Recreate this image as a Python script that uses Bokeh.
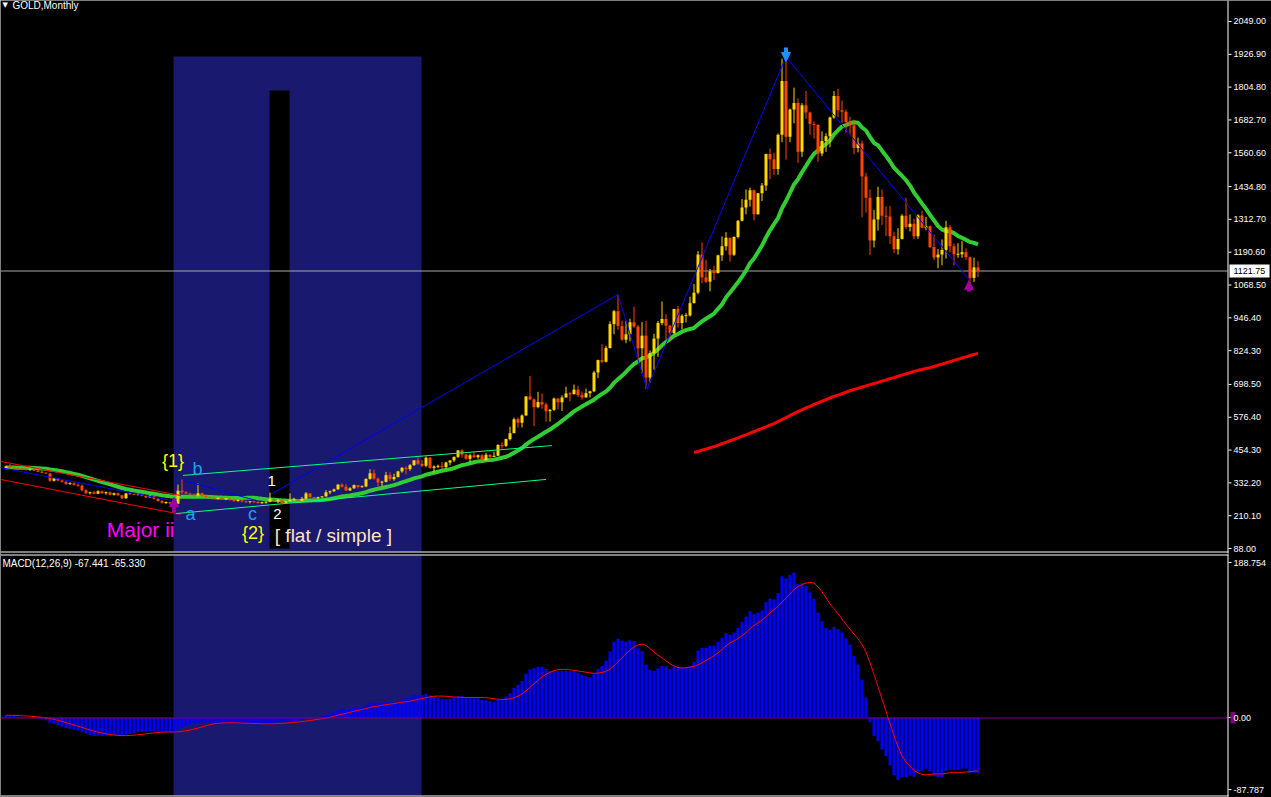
import numpy as np
from bokeh.plotting import figure
from bokeh.models import Range1d, Label, Arrow, NormalHead, ColumnDataSource
from bokeh.core.properties import value
from bokeh.embed import file_html
from bokeh.resources import INLINE

# ---------------- data (monthly GOLD candles) ----------------
prior_closes = [372, 380, 386, 392, 398, 388, 384, 380, 386, 390, 394, 391, 386, 383,
                385, 389, 392, 395, 391, 388, 385, 387, 390, 393, 391, 388, 390]

opens = [
    388, 394, 388, 386, 384, 383, 381, 384, 378, 374, 370, 367,
    340, 349, 341, 336, 328, 331, 325, 322, 305, 294, 297, 292,
    301, 294, 297, 288, 294, 286, 275, 293, 291, 289, 292, 284,
    279, 285, 273, 265, 258, 260, 256, 255, 303, 297, 293, 289,
    285, 294, 283, 279, 276, 274, 275, 271, 273, 269, 265, 268,
    263, 261, 264, 260, 258, 259, 262,
    272, 266, 267, 258, 263, 268, 271, 266, 273, 293, 279, 276,
    279, 282, 297, 301, 308, 326, 318, 304, 312, 324, 317, 319,
    347, 368, 348, 334, 336, 361, 346, 354, 375, 388, 384, 398,
    416, 403, 396, 426, 388, 393, 395, 391, 408, 416, 429, 453,
    438, 422, 435, 428, 435, 417, 437, 429, 433, 473, 470, 495,
    517, 569, 556, 583, 654, 643, 614, 633, 624, 599, 604, 646,
    632, 650, 665, 662, 679, 659, 650, 666, 673, 743, 789, 783,
    834, 923, 971, 916, 865, 885, 930, 914, 833, 880, 724, 815,
    869, 927, 942, 917, 890, 979, 927, 954, 955, 1001, 1040, 1182,
    1097, 1081, 1119, 1113, 1179, 1213, 1244, 1181, 1247, 1308, 1357, 1386,
    1421, 1332, 1410, 1439, 1556, 1536, 1500, 1628, 1828, 1620, 1722, 1746,
    1564, 1737, 1710, 1668, 1664, 1558, 1604, 1622, 1692, 1772, 1719, 1713,
    1675, 1663, 1578, 1595, 1472, 1393, 1234, 1312, 1396, 1326, 1323, 1250,
    1202, 1240, 1326, 1284, 1296, 1250, 1327, 1282, 1287, 1210, 1171, 1182,
    1199, 1283, 1213, 1183, 1183, 1190, 1172, 1095, 1134]

highs = [
    396, 403, 391, 389, 388, 387, 386, 387, 382, 378, 372, 369,
    352, 351, 345, 340, 335, 334, 330, 326, 309, 300, 302, 305,
    303, 300, 300, 296, 296, 288, 295, 296, 295, 293, 294, 289,
    287, 287, 276, 268, 263, 262, 259, 326, 345, 302, 296, 293,
    330, 296, 287, 282, 280, 278, 279, 276, 276, 273, 270, 271,
    267, 265, 267, 264, 262, 263, 296,
    273, 272, 269, 265, 293, 277, 272, 280, 298, 294, 280, 281,
    283, 305, 304, 311, 327, 330, 327, 316, 326, 324, 323, 349,
    383, 382, 352, 340, 373, 372, 366, 377, 391, 394, 402, 417,
    427, 417, 430, 428, 397, 400, 410, 411, 415, 430, 455, 457,
    440, 439, 447, 438, 439, 444, 438, 448, 476, 483, 497, 541,
    575, 575, 587, 654, 730, 646, 671, 665, 631, 607, 650, 648,
    658, 690, 670, 698, 693, 672, 683, 675, 749, 791, 848, 842,
    933, 976, 1033, 936, 936, 943, 988, 920, 931, 935, 825, 887,
    935, 1007, 960, 920, 980, 990, 960, 965, 1025, 1072, 1195, 1227,
    1162, 1128, 1140, 1181, 1249, 1265, 1245, 1250, 1310, 1388, 1424, 1431,
    1424, 1411, 1448, 1557, 1577, 1561, 1632, 1911, 1920, 1725, 1803, 1763,
    1745, 1791, 1714, 1677, 1667, 1640, 1633, 1695, 1790, 1798, 1755, 1722,
    1695, 1684, 1617, 1606, 1487, 1424, 1348, 1434, 1424, 1361, 1362, 1267,
    1280, 1332, 1392, 1331, 1315, 1332, 1345, 1322, 1290, 1256, 1202, 1238,
    1307, 1292, 1223, 1224, 1232, 1205, 1175, 1170, 1157]

lows = [
    384, 386, 384, 382, 380, 378, 377, 376, 372, 368, 365, 336,
    337, 338, 333, 325, 324, 322, 318, 300, 290, 289, 290, 290,
    292, 288, 286, 285, 284, 272, 273, 288, 287, 285, 282, 276,
    277, 270, 262, 255, 253, 252, 253, 253, 290, 290, 286, 282,
    282, 280, 276, 272, 271, 270, 268, 268, 266, 262, 262, 260,
    258, 256, 258, 255, 254, 255, 260,
    263, 256, 257, 256, 263, 266, 265, 265, 270, 276, 271, 272,
    276, 281, 290, 299, 307, 315, 302, 302, 310, 311, 314, 316,
    344, 344, 320, 319, 334, 339, 340, 352, 370, 364, 377, 396,
    399, 391, 390, 385, 371, 387, 384, 386, 397, 410, 425, 426,
    418, 410, 424, 422, 414, 414, 418, 429, 433, 460, 466, 490,
    517, 538, 538, 582, 640, 543, 610, 608, 560, 560, 600, 605,
    600, 650, 636, 662, 651, 642, 650, 650, 670, 722, 777, 780,
    832, 885, 902, 861, 852, 859, 908, 786, 740, 681, 705, 753,
    801, 919, 867, 865, 884, 910, 904, 929, 951, 1000, 1034, 1075,
    1076, 1045, 1087, 1111, 1158, 1197, 1155, 1176, 1242, 1305, 1332, 1360,
    1309, 1330, 1381, 1419, 1462, 1477, 1479, 1600, 1535, 1600, 1670, 1523,
    1545, 1687, 1627, 1613, 1527, 1548, 1564, 1581, 1687, 1694, 1672, 1635,
    1626, 1555, 1562, 1321, 1338, 1180, 1208, 1271, 1292, 1251, 1221, 1187,
    1182, 1238, 1277, 1268, 1240, 1240, 1281, 1272, 1206, 1161, 1131, 1142,
    1167, 1190, 1142, 1170, 1170, 1162, 1077, 1080, 1098]

closes = [
    394, 388, 386, 384, 383, 381, 384, 378, 374, 370, 367, 340,
    349, 341, 336, 328, 331, 325, 322, 305, 294, 297, 292, 301,
    294, 297, 288, 294, 286, 275, 293, 291, 289, 292, 284, 279,
    285, 273, 265, 258, 260, 256, 255, 303, 297, 293, 289, 285,
    294, 283, 279, 276, 274, 275, 271, 273, 269, 265, 268, 263,
    261, 264, 260, 258, 259, 262, 272,
    266, 267, 258, 263, 268, 271, 266, 273, 293, 279, 276, 279,
    282, 297, 301, 308, 326, 318, 304, 312, 324, 317, 319, 347,
    368, 348, 334, 336, 361, 346, 354, 375, 388, 384, 398, 416,
    403, 396, 426, 388, 393, 395, 391, 408, 416, 429, 453, 438,
    422, 435, 428, 435, 417, 437, 429, 433, 473, 470, 495, 517,
    569, 556, 583, 654, 643, 614, 633, 624, 599, 604, 646, 632,
    650, 665, 662, 679, 659, 650, 666, 673, 743, 789, 783, 834,
    923, 971, 916, 865, 885, 930, 914, 833, 880, 724, 815, 869,
    927, 942, 917, 890, 979, 927, 954, 955, 1001, 1040, 1182, 1097,
    1081, 1119, 1113, 1179, 1213, 1244, 1181, 1247, 1308, 1357, 1386, 1421,
    1332, 1410, 1439, 1556, 1536, 1500, 1628, 1828, 1620, 1722, 1746, 1564,
    1737, 1710, 1668, 1664, 1558, 1604, 1622, 1692, 1772, 1719, 1713, 1675,
    1663, 1578, 1595, 1472, 1393, 1234, 1312, 1396, 1326, 1323, 1250, 1202,
    1240, 1326, 1284, 1296, 1250, 1327, 1282, 1287, 1210, 1171, 1182, 1199,
    1283, 1213, 1183, 1183, 1190, 1172, 1095, 1134, 1121.75]

# long moving average (red), bars 172..243
ma_long_start = 172
ma_long = [445, 449, 454, 458, 463, 467,
           472, 478, 483, 489, 494,
           500, 506, 511, 517, 523,
           529, 535, 541, 547, 553,
           560, 568, 575, 583, 590,
           597, 604, 611, 617, 624,
           630, 636, 642, 648, 654,
           659, 664, 670, 675, 680,
           684, 689, 693, 698, 702,
           706, 711, 715, 720, 724,
           729, 733, 738, 742, 747,
           751, 754, 758, 761, 765,
           770, 774, 779, 783, 788,
           792, 797, 801, 806, 810, 814]

current_price = 1121.75
price_ticks = [2049.0, 1926.9, 1804.8, 1682.7, 1560.6, 1434.8, 1312.7, 1190.6,
               1068.5, 946.4, 824.3, 698.5, 576.4, 454.3, 332.2, 210.1, 88.0]
macd_ticks = [188.754, 0.0, -87.787]
macd_tick_labels = ["188.754", "0.00", "-87.787"]

# drawn objects (bar index, price)
zone_left, zone_right, zone_top = 41.9, 103.9, 1919
gap_left, gap_right, gap_top, gap_bottom = 65.9, 70.9, 1792, 88
zigzag_x = [66.25, 153, 160.25, 195, 240.75]
zigzag_y = [290, 1033, 681, 1918, 1089]
blue1_x, blue1_y = [-1.375, 41.25], [389, 267]
blue2_x, blue2_y = [44.25, 62.5], [341, 267]
red_up_x, red_up_y = [-1.375, 43.75], [412, 285]
red_lo_x, red_lo_y = [-1.375, 43.75], [345, 215]
grn_up_x, grn_up_y = [44.25, 136.5], [360, 471]
grn_lo_x, grn_lo_y = [42.5, 135], [218, 345]

labels_text = ["Major ii", "{1}", "b", "a", "c", "1", "2", "{2}", "[ flat / simple ]"]
labels_x = [25.2, 39.0, 46.6, 44.9, 60.5, 65.4, 66.8, 59.0, 67.2]
labels_y = [160, 412, 382, 218, 218, 341, 218, 144, 137]
labels_color = ["#FF00FF", "#FFFF00", "#1EA0EA", "#1EA0EA", "#1EA0EA",
                "#FFFFFF", "#FFFFFF", "#FFFF00", "#FFE4C4"]
labels_size = ["21px", "18px", "18px", "18px", "18px", "15px", "15px", "18px", "19px"]

arrows = [  # x, y_start, y_end, color
    (42.0, 222, 278, "#A000A0"),
    (240.75, 1044, 1085, "#A000A0"),
    (195.0, 1952, 1900, "#1E90FF"),
]

# ---------------- indicators from the candles ----------------
o = np.array(opens, float)
h = np.array(highs, float)
l = np.array(lows, float)
c = np.array(closes, float)
n = len(c)
npri = len(prior_closes)
allc = np.concatenate([np.array(prior_closes, float), c])
idx = np.arange(n)


def sma(arr, k):
    out = np.full(len(arr), np.nan)
    cs = np.cumsum(np.insert(arr, 0, 0.0))
    out[k - 1:] = (cs[k:] - cs[:-k]) / k
    return out


def ema(arr, k):
    a = 2.0 / (k + 1)
    out = np.empty(len(arr))
    out[0] = arr[0]
    for i in range(1, len(arr)):
        out[i] = a * arr[i] + (1 - a) * out[i - 1]
    return out


ma20 = sma(allc, 20)[npri:]
macd_all = ema(allc, 12) - ema(allc, 26)
sig_all = sma(macd_all, 9)
macd = macd_all[npri:]
signal = sig_all[npri:]

# ---------------- figure: one canvas, price pane on top, MACD pane below ----------------
W, H = 1271, 797
MAIN_H = 553                   # rows 0..552 price pane, rows 553..796 MACD pane
FONT = "Liberation Sans"
BULL, BEAR = "#FFD700", "#FF4500"
NAVY = "#191970"
X0, X1 = -1.375, 316.375       # whole canvas width in bar units (4 px per bar)
AXL, AXR = 305.375, 305.625    # price scale line (1 px wide)
TICK_END = 306.375
LBL_X = 306.875

PP, MP = 3.721, 1.2178         # price / macd units per pixel
P_TOP = 2127.14
M_TOP = 199.75                 # macd value at top of MACD pane


def prow(r):   # price at top edge of pixel row r of the canvas
    return P_TOP - r * PP


def mrow(r):   # macd value at top edge of pixel row r of the MACD pane
    return M_TOP - r * MP


p = figure(width=W, height=H, x_range=Range1d(X0, X1), y_range=Range1d(prow(H), P_TOP),
           output_backend="svg", toolbar_location=None, x_axis_location=None,
           y_axis_location=None, background_fill_color="black",
           border_fill_color="black", outline_line_color=None,
           min_border_left=0, min_border_right=0, min_border_top=0, min_border_bottom=0)
p.extra_y_ranges = {"macd": Range1d(mrow(H - MAIN_H), M_TOP + MAIN_H * MP)}
p.grid.visible = False
MK = dict(y_range_name="macd")

# background objects
p.quad(left=[zone_left], right=[zone_right], top=[zone_top], bottom=[prow(551)],
       fill_color=NAVY, line_color=None)
p.quad(left=[gap_left], right=[gap_right], top=[gap_top], bottom=[gap_bottom],
       fill_color="black", line_color=None)
p.quad(left=[zone_left], right=[zone_right], top=[mrow(2)], bottom=[mrow(242)],
       fill_color=NAVY, line_color=None, **MK)

# current price line (1 px row)
p.quad(left=[X0], right=[AXL], top=[prow(270)], bottom=[prow(271)],
       fill_color="#A8A8A8", line_color=None)

# moving averages
p.line(np.arange(ma_long_start, ma_long_start + len(ma_long)), ma_long,
       line_color="#FF0000", line_width=3)
p.line(idx, ma20, line_color="#32CD32", line_width=4)

# candles
up = c >= o
col = np.where(up, BULL, BEAR)
btop = np.maximum(o, c)
bbot = np.minimum(o, c)
minh = 3.5
small = (btop - bbot) < minh
mid = (btop + bbot) / 2
btop = np.where(small, mid + minh / 2, btop)
bbot = np.where(small, mid - minh / 2, bbot)
src = ColumnDataSource(dict(x=idx, h=h, l=l, top=btop, bot=bbot, col=col))
p.segment(x0="x", y0="l", x1="x", y1="h", line_color="col", line_width=1, source=src)
p.vbar(x="x", top="top", bottom="bot", width=0.75, fill_color="col", line_color=None, source=src)

# trend lines
for xs, ys, colr in [(blue1_x, blue1_y, "#0000FF"), (blue2_x, blue2_y, "#0000FF"),
                     (zigzag_x, zigzag_y, "#0000FF"), (red_up_x, red_up_y, "#FF0000"),
                     (red_lo_x, red_lo_y, "#FF0000"), (grn_up_x, grn_up_y, "#00FF7F"),
                     (grn_lo_x, grn_lo_y, "#00FF7F")]:
    p.line(xs, ys, line_color=colr, line_width=1)

# arrows
for ax_, y0, y1, colr in arrows:
    p.add_layout(Arrow(x_start=ax_, y_start=y0, x_end=ax_, y_end=y1, line_color=colr,
                       line_width=4, end=NormalHead(size=9, fill_color=colr, line_color=colr)))

# wave labels
for t, x, y, colr, sz in zip(labels_text, labels_x, labels_y, labels_color, labels_size):
    p.add_layout(Label(x=x, y=y, text=t, text_color=colr, text_font=FONT,
                       text_font_size=sz, text_baseline="alphabetic", text_align="left"))

# title
p.add_layout(Label(x=-0.9, y=2124, text="\u25BC", text_color="white", text_font="DejaVu Sans",
                   text_font_size="7px", text_baseline="top"))
p.add_layout(Label(x=1.6, y=2128, text="GOLD,Monthly", text_color="white", text_font=FONT,
                   text_font_size="10px", text_baseline="top"))

# ---- price scale ----
p.quad(left=[AXL], right=[AXR], top=[P_TOP], bottom=[prow(MAIN_H)], fill_color="white",
       line_color=None)
p.segment(x0=[AXR] * len(price_ticks), x1=[TICK_END] * len(price_ticks),
          y0=price_ticks, y1=price_ticks, line_color="white", line_width=1)
p.text(x=[LBL_X] * len(price_ticks), y=price_ticks, text=["%.2f" % t for t in price_ticks],
       text_color="white", text_font=value(FONT), text_font_size=value("9px"),
       text_baseline="middle", text_align="left")
# current price tag
p.quad(left=[305.875], right=[315.875], top=[prow(264)], bottom=[prow(277)],
       fill_color="white", line_color=None)
p.text(x=[LBL_X], y=[current_price], text=["%.2f" % current_price], text_color="black",
       text_font=value(FONT), text_font_size=value("9px"),
       text_baseline="middle", text_align="left")
# pane separator (upper line, 1 px row)
p.quad(left=[X0], right=[AXR], top=[prow(551)], bottom=[prow(552)],
       fill_color="white", line_color=None)

# ---- MACD pane ----
p.vbar(x=idx, top=macd, bottom=0, width=0.75, fill_color="#0000FF", line_color=None, **MK)
p.line(idx, signal, line_color="#FF0000", line_width=1, **MK)
p.quad(left=[X0], right=[AXL], top=[mrow(164)], bottom=[mrow(165)],
       fill_color="#800080", line_color=None, **MK)
p.add_layout(Label(x=-0.9, y=194.5, text="MACD(12,26,9) -67.441 -65.330", text_color="white",
                   text_font=FONT, text_font_size="10px", text_baseline="top", **MK))
p.quad(left=[AXL], right=[AXR], top=[mrow(1)], bottom=[mrow(243)], fill_color="white",
       line_color=None, **MK)
p.quad(left=[X0], right=[AXR], top=[mrow(1)], bottom=[mrow(2)], fill_color="white",
       line_color=None, **MK)
p.quad(left=[X0], right=[AXR], top=[mrow(242)], bottom=[mrow(243)], fill_color="white",
       line_color=None, **MK)
p.segment(x0=[AXR] * 3, x1=[TICK_END] * 3, y0=macd_ticks, y1=macd_ticks,
          line_color="white", line_width=1, **MK)
p.quad(left=[306.125], right=[307.375], top=[6.7], bottom=[-7.3], fill_color="#800080",
       line_color=None, **MK)
p.text(x=[LBL_X] * 3, y=macd_ticks, text=macd_tick_labels, text_color="white",
       text_font=value(FONT), text_font_size=value("9px"),
       text_baseline="middle", text_align="left", **MK)

open("out.html", "w").write(file_html(p, INLINE))
